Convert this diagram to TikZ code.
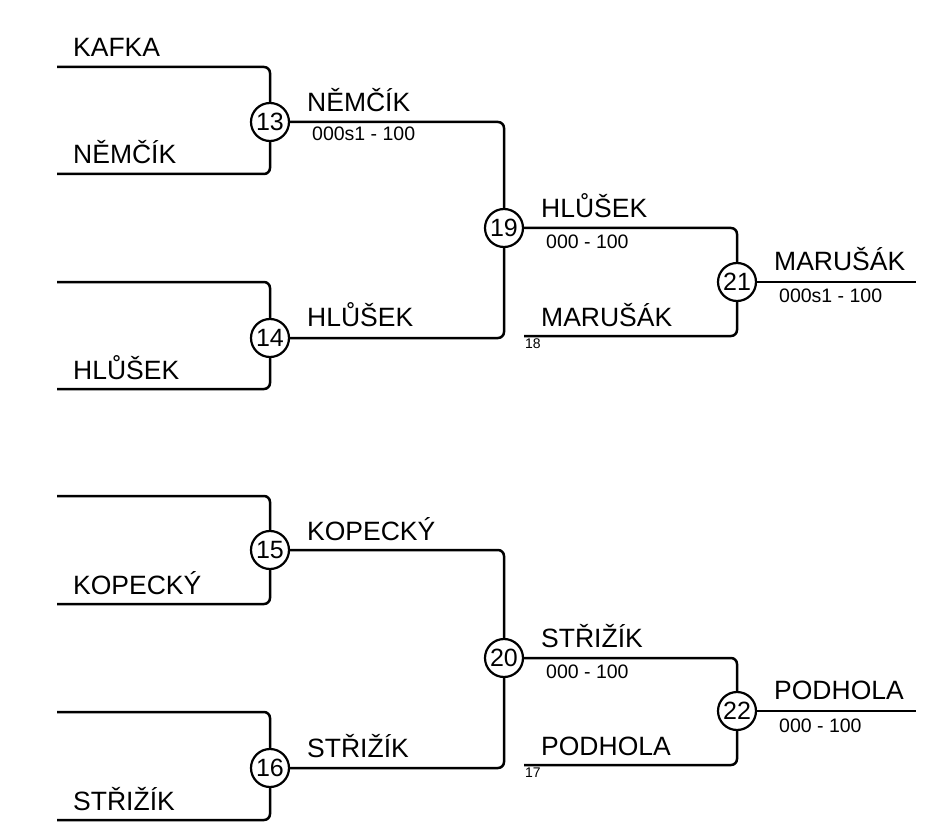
\documentclass[tikz,border=0pt]{standalone}
\usepackage{fontspec}
\setmainfont{Liberation Sans}
\usetikzlibrary{positioning}

\begin{document}
\begin{tikzpicture}[x=1pt,y=-1pt,
            line/.style={line width=2.5pt, rounded corners=6pt},
            match/.style={circle, draw, line width=2.2pt, minimum size=38pt, inner sep=0pt, font=\fontsize{25}{25}\selectfont},
            player/.style={anchor=base west, inner sep=0pt, font=\fontsize{26.5}{26.5}\selectfont},
            score/.style={anchor=base west, inner sep=0pt, font=\fontsize{19.5}{19.5}\selectfont},
            seed/.style={anchor=base west, inner sep=0pt, font=\fontsize{14}{14}\selectfont}]

\useasboundingbox (0,0) rectangle (930,832);

\node[match] (m13) at (270,122) {13};
\node[match] (m14) at (270,338) {14};
\node[match] (m15) at (270,550) {15};
\node[match] (m16) at (270,768) {16};
\node[match] (m19) at (504,228) {19};
\node[match] (m20) at (504,658) {20};
\node[match] (m21) at (737,282) {21};
\node[match] (m22) at (737,711) {22};

\coordinate (in13a) at (57,67);   \coordinate (in13b) at (57,174);
\coordinate (in14a) at (57,282);  \coordinate (in14b) at (57,389);
\coordinate (in15a) at (57,496);  \coordinate (in15b) at (57,604);
\coordinate (in16a) at (57,712);  \coordinate (in16b) at (57,820);
\coordinate (in21b) at (524,336); \coordinate (in22b) at (524,765);
\coordinate (out21) at (916,282); \coordinate (out22) at (916,711);

\foreach \m in {13,14,15,16}{
  \draw[line] (in\m a) -| (m\m);
  \draw[line] (in\m b) -| (m\m);
}
\draw[line] (m13) -| (m19);
\draw[line] (m14) -| (m19);
\draw[line] (m15) -| (m20);
\draw[line] (m16) -| (m20);
\draw[line] (m19) -| (m21);
\draw[line] (in21b) -| (m21);
\draw[line] (m20) -| (m22);
\draw[line] (in22b) -| (m22);
\draw[line] (m21) -- (out21);
\draw[line] (m22) -- (out22);

\node[player] (p13a) at (73,57) {KAFKA};
\node[player] (p13b) at (73,164) {NĚMČÍK};
\node[player] (p14b) at (73,379) {HLŮŠEK};
\node[player] (p15b) at (73,594) {KOPECKÝ};
\node[player] (p16b) at (73,810) {STŘIŽÍK};

\node[player] (w13) at (307,112) {NĚMČÍK};
\node[score]  (s13) at (312,141) {000s1 - 100};
\node[player] (w14) at (307,326) {HLŮŠEK};
\node[player] (w15) at (307,540) {KOPECKÝ};
\node[player] (w16) at (307,757) {STŘIŽÍK};

\node[player] (w19) at (541,218) {HLŮŠEK};
\node[score]  (s19) at (546,248) {000 - 100};
\node[player] (p21b) at (541,326) {MARUŠÁK};
\node[seed]   (d21b) at (525,348) {18};
\node[player] (w20) at (541,647) {STŘIŽÍK};
\node[score]  (s20) at (546,678) {000 - 100};
\node[player] (p22b) at (541,755) {PODHOLA};
\node[seed]   (d22b) at (525,777) {17};

\node[player] (w21) at (774,270) {MARUŠÁK};
\node[score]  (s21) at (779,302) {000s1 - 100};
\node[player] (w22) at (774,699) {PODHOLA};
\node[score]  (s22) at (779,732) {000 - 100};
\end{tikzpicture}
\end{document}
